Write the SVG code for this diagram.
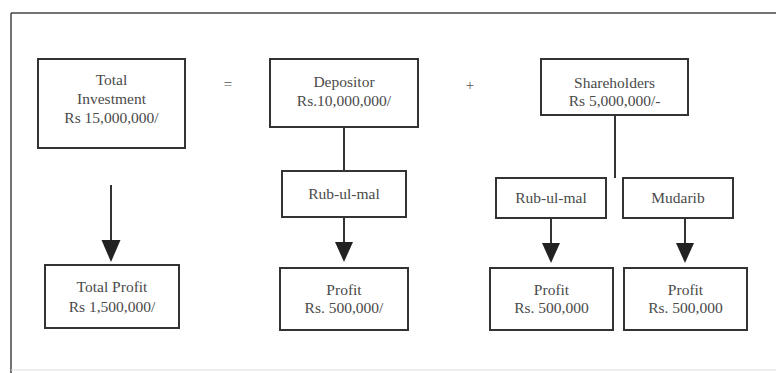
<svg xmlns="http://www.w3.org/2000/svg" width="776" height="373" viewBox="0 0 776 373">
<style>
.box{fill:#fff;stroke:#333;stroke-width:2}
.t{font-family:"Liberation Serif",serif;font-size:15.5px;fill:#4a4a4a;text-anchor:middle}
.op{font-family:"Liberation Serif",serif;font-size:15px;fill:#555;text-anchor:middle}
.ln{stroke:#333;stroke-width:2;fill:none}
.ah{fill:#222}
</style>
<rect width="776" height="373" fill="#fff"/>
<g id="frame">
<line x1="11" y1="13" x2="776" y2="13" stroke="#444" stroke-width="1.5"/>
<line x1="11" y1="13" x2="11" y2="373" stroke="#444" stroke-width="1.5"/>
<line x1="11" y1="370" x2="776" y2="370" stroke="#ddd" stroke-width="1"/>
</g>
<g id="connectors">
<line class="ln" x1="111" y1="185" x2="111" y2="250"/>
<path class="ah" d="M101.5,240 L120.5,240 L111,262 Z"/>
<line class="ln" x1="344" y1="127" x2="344" y2="171"/>
<line class="ln" x1="344" y1="217" x2="344" y2="250"/>
<path class="ah" d="M335,242 L353,242 L344,262 Z"/>
<line class="ln" x1="615" y1="115" x2="615" y2="178"/>
<line class="ln" x1="551" y1="218" x2="551" y2="250"/>
<path class="ah" d="M542,243 L560,243 L551,263 Z"/>
<line class="ln" x1="685" y1="218" x2="685" y2="250"/>
<path class="ah" d="M676,243 L694,243 L685,263 Z"/>
</g>
<g id="total-investment">
<rect class="box" x="38" y="59" width="147" height="89"/>
<text class="t" x="111.5" y="85">Total</text>
<text class="t" x="111.5" y="104">Investment</text>
<text class="t" x="111.5" y="123">Rs 15,000,000/</text>
</g>
<g id="eq"><text class="op" x="228" y="89">=</text></g>
<g id="depositor">
<rect class="box" x="270" y="59" width="148" height="68"/>
<text class="t" x="344" y="87">Depositor</text>
<text class="t" x="344" y="106">Rs.10,000,000/</text>
</g>
<g id="plus"><text class="op" x="470" y="90">+</text></g>
<g id="shareholders">
<rect class="box" x="541" y="59" width="147" height="56"/>
<text class="t" x="614.5" y="88">Shareholders</text>
<text class="t" x="614.5" y="106">Rs 5,000,000/-</text>
</g>
<g id="rub-ul-mal-1">
<rect class="box" x="282" y="171" width="124" height="46"/>
<text class="t" x="344" y="199">Rub-ul-mal</text>
</g>
<g id="rub-ul-mal-2">
<rect class="box" x="496" y="178" width="110" height="40"/>
<text class="t" x="551" y="203">Rub-ul-mal</text>
</g>
<g id="mudarib">
<rect class="box" x="623" y="178" width="110" height="40"/>
<text class="t" x="678" y="203">Mudarib</text>
</g>
<g id="total-profit">
<rect class="box" x="45" y="265" width="134" height="63"/>
<text class="t" x="112" y="292">Total Profit</text>
<text class="t" x="112" y="312">Rs 1,500,000/</text>
</g>
<g id="profit-1">
<rect class="box" x="280" y="268" width="128" height="62"/>
<text class="t" x="344" y="295">Profit</text>
<text class="t" x="344" y="313">Rs. 500,000/</text>
</g>
<g id="profit-2">
<rect class="box" x="490" y="268" width="123" height="62"/>
<text class="t" x="551.5" y="295">Profit</text>
<text class="t" x="551.5" y="313">Rs. 500,000</text>
</g>
<g id="profit-3">
<rect class="box" x="624" y="268" width="123" height="62"/>
<text class="t" x="685.5" y="295">Profit</text>
<text class="t" x="685.5" y="313">Rs. 500,000</text>
</g>
</svg>
